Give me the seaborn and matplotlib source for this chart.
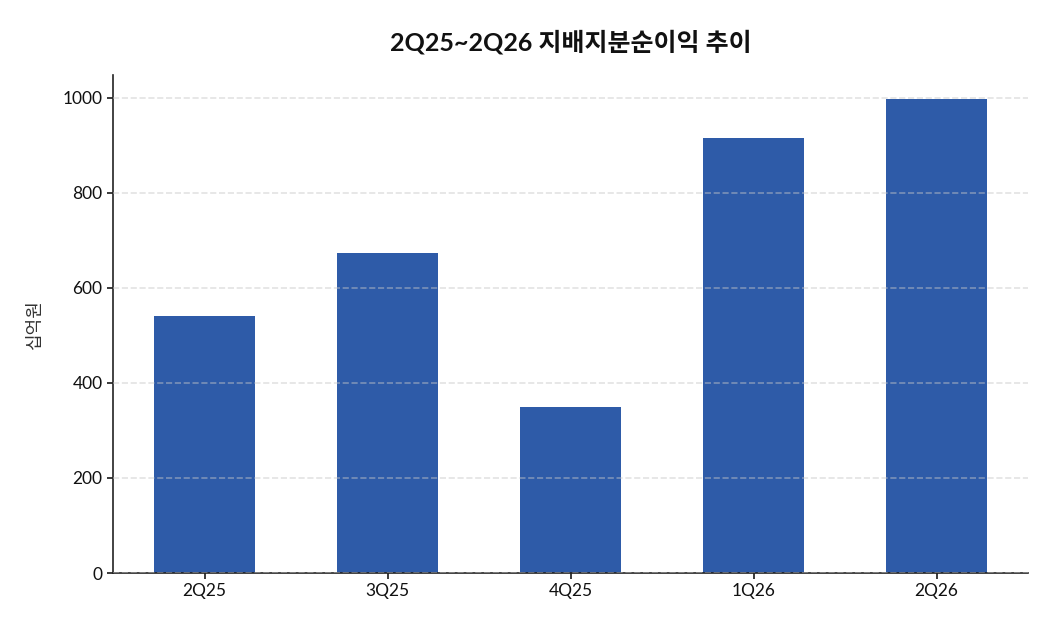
import matplotlib
matplotlib.use("Agg")
import matplotlib.pyplot as plt
import seaborn as sns
import pandas as pd

categories = ["2Q25", "3Q25", "4Q25", "1Q26", "2Q26"]
values = [540, 674, 349, 916, 998]

sns.set_theme(style="white")
plt.rcParams['font.family'] = ['Lato', 'Noto Sans CJK KR', 'DejaVu Sans']

df = pd.DataFrame({"quarter": categories, "value": values})

fig = plt.figure(figsize=(10.5, 6.3), dpi=100)
ax = fig.add_axes([113/1050, 1 - 573/630, (1028-113)/1050, (573-75)/630])
sns.barplot(data=df, x="quarter", y="value", color="#2E5BA8", saturation=1,
            width=0.55, linewidth=0, ax=ax)
ax.set_xlim(-0.5, 4.5)
ax.set_ylim(0, max(values) * 1.05)
ax.set_yticks([0, 200, 400, 600, 800, 1000])
ax.grid(axis="y", linestyle="--", color="#c8c8c8", alpha=0.5, linewidth=1.2)
ax.set_axisbelow(False)
for s in ["top", "right"]:
    ax.spines[s].set_visible(False)
for s in ["left", "bottom"]:
    ax.spines[s].set_color("#222222")
    ax.spines[s].set_linewidth(1.2)
ax.tick_params(axis="both", which="both", length=4, color="#222222", labelsize=12.5,
               left=True, bottom=True, labelcolor="#111111")
ax.set_xlabel("")
ax.set_ylabel("십억원", fontsize=13, color="#333333", labelpad=14)
ax.set_title("2Q25~2Q26 지배지분순이익 추이", fontsize=18, fontweight="bold",
             pad=18, color="#111111")
fig.savefig("out.png", dpi=100)
